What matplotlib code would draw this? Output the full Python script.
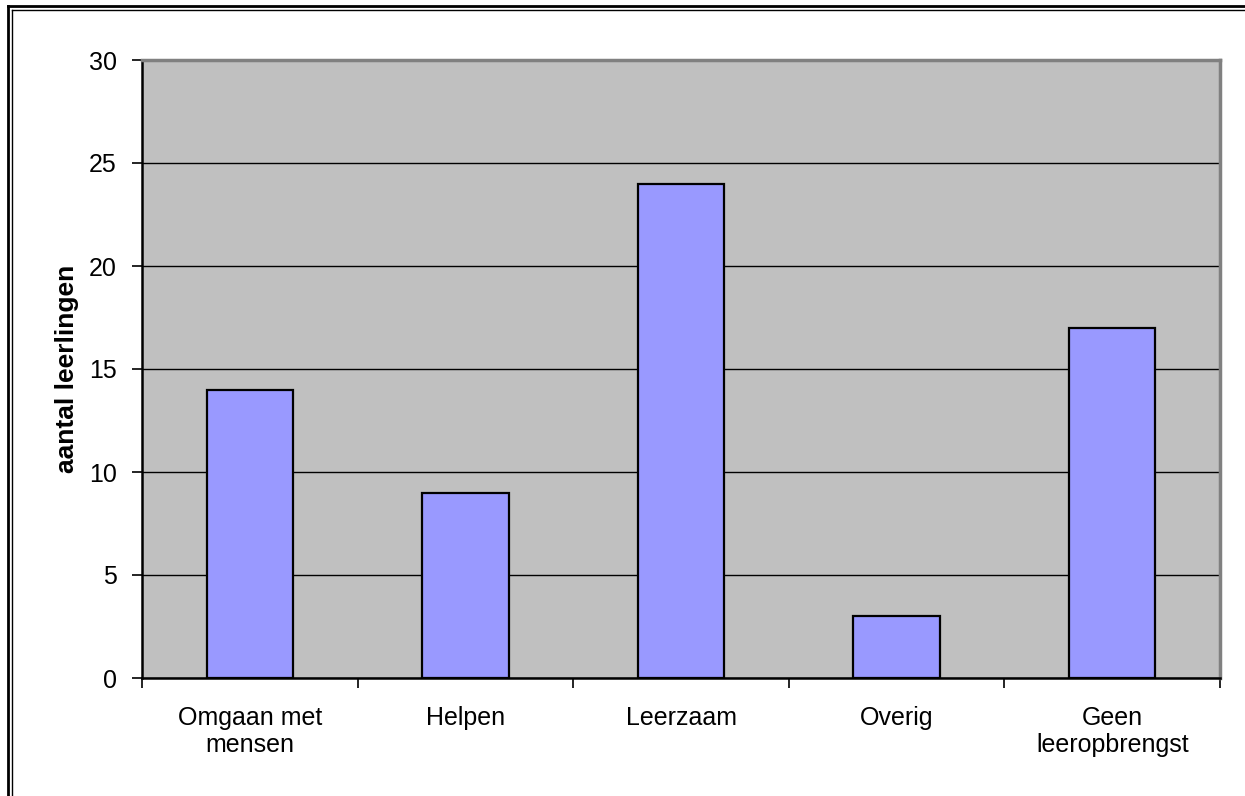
import matplotlib
matplotlib.use("Agg")
import matplotlib.pyplot as plt
from matplotlib.lines import Line2D
import numpy as np

categories = ["Omgaan met\nmensen", "Helpen", "Leerzaam", "Overig", "Geen\nleeropbrengst"]
values = [14, 9, 24, 3, 17]
yticks = [0, 5, 10, 15, 20, 25, 30]
ylabel = "aantal leerlingen"

plt.rcParams['font.family'] = ['Liberation Sans', 'DejaVu Sans']

fig = plt.figure(figsize=(12.45, 7.96), dpi=100)
fig.patch.set_facecolor('white')
ax = fig.add_axes([142/1245, 1 - 678/796, (1220-142)/1245, (678-60)/796])
ax.set_facecolor('#C0C0C0')

x = np.arange(len(categories))
ax.bar(x, values, width=0.4, color='#9999FF', edgecolor='black', linewidth=1.6, zorder=3)

ax.set_xlim(-0.5, len(categories) - 0.5)
ax.set_ylim(0, 30)
ax.set_yticks(yticks)
ax.yaxis.grid(True, color='black', linewidth=1.0, zorder=1)
ax.set_axisbelow(True)

ax.set_xticks(x)
ax.set_xticklabels(categories, fontsize=18, linespacing=1.15)
ax.set_xticks(np.arange(len(categories) + 1) - 0.5, minor=True)
ax.tick_params(axis='x', which='major', length=0, pad=20)
ax.tick_params(axis='x', which='minor', length=7, width=1.2, direction='out', color='black')
ax.tick_params(axis='y', length=7, width=1.2, direction='out', labelsize=18, pad=11)

ax.set_ylabel(ylabel, fontsize=19, fontweight='bold', labelpad=7)

ax.spines['left'].set_color('black')
ax.spines['left'].set_linewidth(1.8)
ax.spines['bottom'].set_color('black')
ax.spines['bottom'].set_linewidth(1.8)
ax.spines['top'].set_color('#808080')
ax.spines['top'].set_linewidth(2.5)
ax.spines['right'].set_color('#808080')
ax.spines['right'].set_linewidth(2.5)

# double-line frame around chart (cropped at right/bottom)
W, H = 1245.0, 796.0
fig.add_artist(Line2D([8/W, 1.0], [1 - 6/H, 1 - 6/H], color='black', linewidth=2.0, transform=fig.transFigure))
fig.add_artist(Line2D([12/W, 1.0], [1 - 10/H, 1 - 10/H], color='black', linewidth=1.0, transform=fig.transFigure))
fig.add_artist(Line2D([8/W, 8/W], [0, 1 - 6/H], color='black', linewidth=2.0, transform=fig.transFigure))
fig.add_artist(Line2D([12/W, 12/W], [0, 1 - 10/H], color='black', linewidth=1.0, transform=fig.transFigure))

fig.savefig("out.png", dpi=100, facecolor='white')
